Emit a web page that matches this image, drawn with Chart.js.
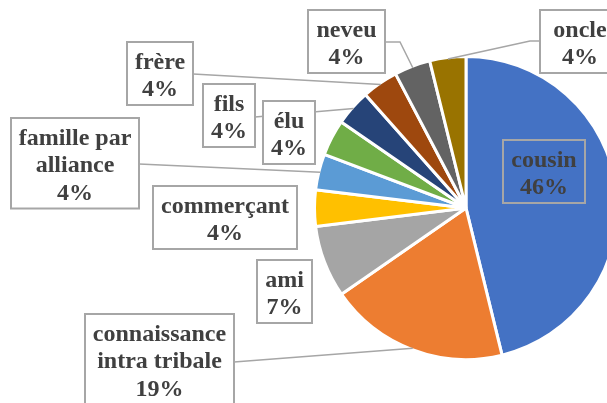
<!DOCTYPE html>
<html><head><meta charset="utf-8">
<script src="https://cdn.jsdelivr.net/npm/chart.js@4.4.0/dist/chart.umd.min.js"></script>
<style>
html,body{margin:0;padding:0;background:#fff;overflow:hidden;width:607px;height:403px}
#wrap{position:relative;width:607px;height:403px;overflow:hidden}
canvas{position:absolute;left:0;top:0}
</style></head>
<body><div id="wrap"><canvas id="c" width="640" height="403"></canvas></div>
<script>
// ---- data ----
const categories = ['cousin','connaissance intra tribale','ami','commerçant','famille par alliance','élu','fils','frère','neveu','oncle'];
const values = [46.2, 19.2, 7.7, 3.85, 3.85, 3.85, 3.85, 3.85, 3.85, 3.85];
const percentLabels = ['46%','19%','7%','4%','4%','4%','4%','4%','4%','4%'];
const colors = ['#4472C4','#ED7D31','#A5A5A5','#FFC000','#5B9BD5','#70AD47','#264478','#9E480E','#636363','#997300'];

// ---- label layout (positions only) ----
const labelLayout = [
  {x:503, y:140, w:82, fill:false},
  {x:85,  y:314, w:149, leader:[[234,362]]},
  {x:257, y:260, w:55},
  {x:153, y:186, w:144},
  {x:11,  y:118, w:128, leader:[[139,164]]},
  {x:263, y:101, w:52},
  {x:203, y:84,  w:52, leader:[[255,117]]},
  {x:127, y:42,  w:66, leader:[[193,74]]},
  {x:308, y:10,  w:77, leader:[[385,42],[400,42]]},
  {x:540, y:10,  w:80, leader:[[540,41],[530,41]]}
];

const FONT = 'bold 24px "Liberation Serif", "Times New Roman", serif';
const LINE_H = 27.5;

function wrap(ctx, text, maxW){
  const words = text.split(' ');
  const lines = [];
  let cur = '';
  for (const w of words){
    const t = cur ? cur + ' ' + w : w;
    if (cur && ctx.measureText(t).width > maxW){ lines.push(cur); cur = w; }
    else cur = t;
  }
  if (cur) lines.push(cur);
  return lines;
}

const labelPlugin = {
  id: 'boxLabels',
  afterDatasetsDraw(chart){
    const ctx = chart.ctx;
    const meta = chart.getDatasetMeta(0);
    ctx.save();
    // leader lines
    ctx.strokeStyle = '#A6A6A6';
    ctx.lineWidth = 1.5;
    meta.data.forEach((arc, i) => {
      const L = labelLayout[i];
      if (!L.leader) return;
      const p = arc.getProps(['x','y','startAngle','endAngle','outerRadius'], true);
      const mid = (p.startAngle + p.endAngle) / 2;
      const R = p.outerRadius - 1.5;
      const ex = p.x + Math.cos(mid) * R, ey = p.y + Math.sin(mid) * R;
      ctx.beginPath();
      ctx.moveTo(L.leader[0][0], L.leader[0][1]);
      for (let k = 1; k < L.leader.length; k++) ctx.lineTo(L.leader[k][0], L.leader[k][1]);
      ctx.lineTo(ex, ey);
      ctx.stroke();
    });
    // boxes + text
    ctx.font = FONT;
    categories.forEach((cat, i) => {
      const L = labelLayout[i];
      const lines = wrap(ctx, cat, L.w - 4).concat([percentLabels[i]]);
      const h = lines.length * LINE_H + 8;
      if (L.fill !== false){ ctx.fillStyle = '#FFFFFF'; ctx.fillRect(L.x, L.y, L.w, h); }
      ctx.strokeStyle = '#A6A6A6';
      ctx.lineWidth = 2;
      ctx.strokeRect(L.x, L.y, L.w, h);
      ctx.fillStyle = '#404040';
      ctx.textAlign = 'center';
      ctx.textBaseline = 'middle';
      lines.forEach((ln, k) => {
        ctx.fillText(ln, L.x + L.w / 2, L.y + 4 + LINE_H * (k + 0.5) + 3);
      });
    });
    ctx.restore();
  }
};

new Chart(document.getElementById('c'), {
  type: 'pie',
  data: {
    labels: categories,
    datasets: [{
      data: values,
      backgroundColor: colors,
      borderColor: '#FFFFFF',
      borderWidth: 3
    }]
  },
  options: {
    responsive: false,
    animation: false,
    layout: { padding: { left: 313, right: 21, top: 55, bottom: 42 } },
    plugins: { legend: { display: false }, tooltip: { enabled: false } }
  },
  plugins: [labelPlugin]
});
</script>
</body></html>
